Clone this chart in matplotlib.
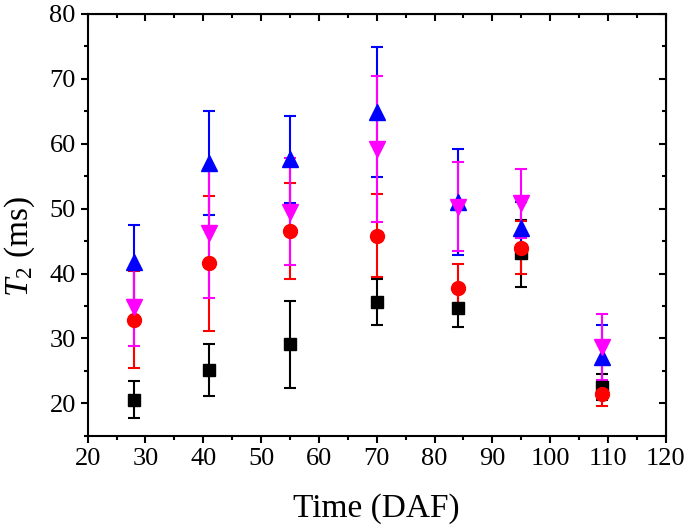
import matplotlib
matplotlib.use("Agg")
import matplotlib.pyplot as plt
from matplotlib.ticker import MultipleLocator

plt.rcParams['font.family'] = ['Liberation Serif', 'DejaVu Serif']
plt.rcParams['mathtext.fontset'] = 'custom'
plt.rcParams['mathtext.rm'] = 'Liberation Serif'
plt.rcParams['mathtext.it'] = 'Liberation Serif:italic'

days = [28, 41, 55, 70, 84, 95, 109]

black_vals = [20.6, 25.1, 29.1, 35.6, 34.7, 43.1, 22.5]
black_err = [2.8, 4.0, 6.7, 3.5, 3.0, 5.2, 2.0]

red_vals = [32.9, 41.6, 46.6, 45.8, 37.8, 44.0, 21.5]
red_err = [7.5, 10.4, 7.4, 6.4, 3.6, 4.1, 1.9]

blue_vals = [41.7, 57.0, 57.6, 64.8, 51.0, 47.0, 27.1]
blue_err = [5.8, 8.0, 6.7, 10.0, 8.2, 4.0, 5.0]

magenta_vals = [34.9, 46.2, 49.5, 59.2, 50.3, 50.8, 28.7]
magenta_err = [6.1, 10.0, 8.2, 11.2, 6.8, 5.3, 5.1]

series = [
    (black_vals, black_err, 's', '#000000', 8.5),
    (red_vals, red_err, 'o', '#FF0000', 10),
    (blue_vals, blue_err, '^', '#0000FF', 12),
    (magenta_vals, magenta_err, 'v', '#FF00FF', 12),
]

fig = plt.figure(figsize=(6.85, 5.32), dpi=100)
ax = fig.add_axes([0.128, 0.1805, 0.844, 0.794])

for vals, err, mk, col, ms in series:
    ax.errorbar(days, vals, yerr=err, fmt=mk, color=col, ecolor=col,
                mfc=col, mec=col, markersize=ms, elinewidth=1.5,
                capsize=4, capthick=1.5)

ax.set_xlim(20, 120)
ax.set_ylim(15, 80)
ax.xaxis.set_major_locator(MultipleLocator(10))
ax.xaxis.set_minor_locator(MultipleLocator(5))
ax.yaxis.set_major_locator(MultipleLocator(10))
ax.yaxis.set_minor_locator(MultipleLocator(5))
ax.tick_params(which='major', direction='out', length=5, width=1.5, labelsize=19)
ax.tick_params(which='minor', direction='out', length=3, width=1.5)
for s in ax.spines.values():
    s.set_linewidth(1.5)

secx = ax.secondary_xaxis('top')
secx.xaxis.set_major_locator(MultipleLocator(10))
secx.xaxis.set_minor_locator(MultipleLocator(5))
secx.tick_params(which='major', direction='in', length=5, width=1.5, labeltop=False)
secx.tick_params(which='minor', direction='in', length=3, width=1.5)
secy = ax.secondary_yaxis('right')
secy.yaxis.set_major_locator(MultipleLocator(10))
secy.yaxis.set_minor_locator(MultipleLocator(5))
secy.tick_params(which='major', direction='in', length=5, width=1.5, labelright=False)
secy.tick_params(which='minor', direction='in', length=3, width=1.5)

ax.set_xlabel('Time (DAF)', fontsize=24, labelpad=17)
ax.set_ylabel('$T_2$ (ms)', fontsize=24)
ax.yaxis.set_label_coords(-0.088, 0.448)

fig.savefig('out.png', dpi=100)
